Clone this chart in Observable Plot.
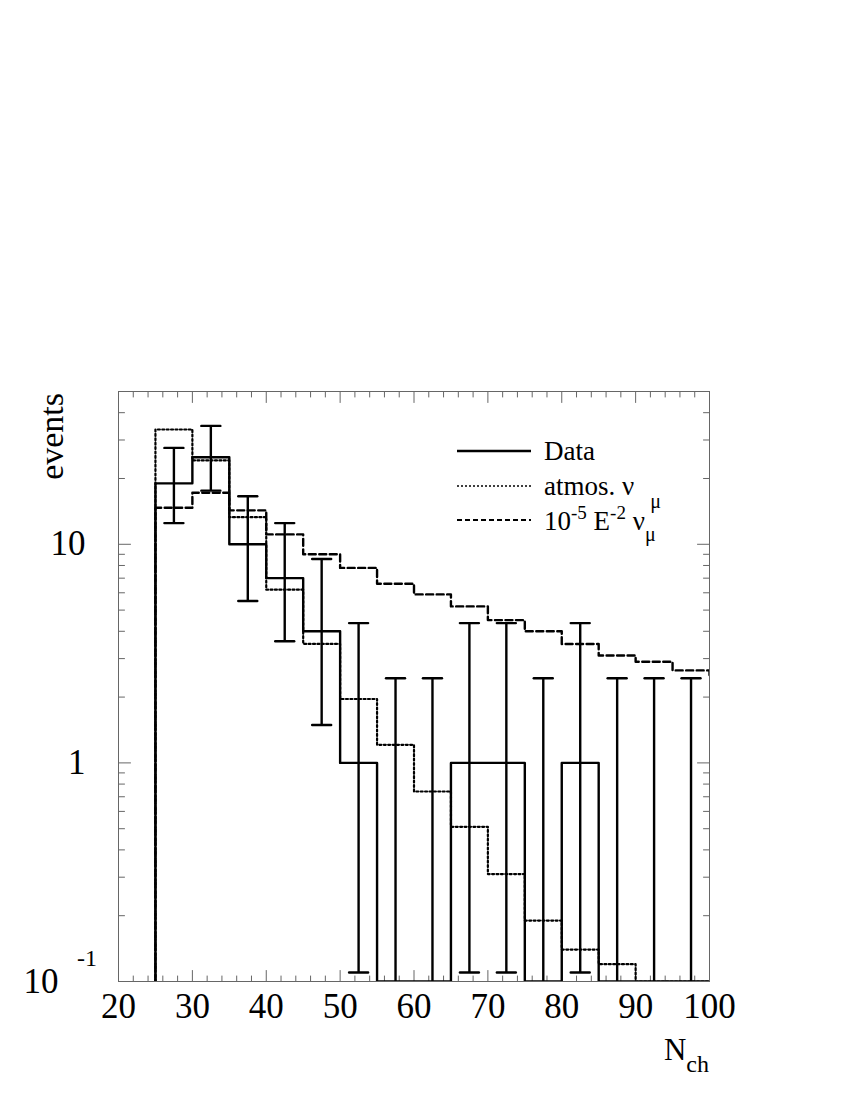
<!DOCTYPE html>
<html><head><meta charset="utf-8">
<script src="https://cdn.jsdelivr.net/npm/d3@7"></script>
<script src="https://cdn.jsdelivr.net/npm/@observablehq/plot@0.6"></script>
<style>
body{margin:0;background:#fff}
#chart{position:relative;width:850px;height:1100px}
</style>
</head><body><div id="chart"></div>
<script>
// ---- data ----
const binLow = [25, 30, 35, 40, 45, 50, 55, 60, 65, 70, 75, 80, 85, 90, 95];
const binWidth = 5;
const dataCounts  = [19, 25, 10, 7, 4, 1, 0, 0, 1, 1, 0, 1, 0, 0, 0];
const dataErrLow  = [12.5, 17.6, 5.5, 3.6, 1.49, 0.11, 0, 0, 0.11, 0.11, 0, 0.11, 0, 0, 0];
const dataErrHigh = [27.6, 34.8, 16.6, 12.5, 8.57, 4.36, 2.44, 2.44, 4.36, 4.36, 2.44, 4.36, 2.44, 2.44, 2.44];
const atmosNuMu   = [33.5, 24.2, 13.3, 6.2, 3.5, 1.96, 1.21, 0.74, 0.51, 0.31, 0.19, 0.14, 0.12, 0, 0];
const signalLow   = [25, 30, 35, 40, 45, 50, 55, 60, 65, 70, 75, 80, 85, 90, 95, 100];
const signalE2    = [14.7, 17.2, 14.3, 11.1, 9.0, 7.8, 6.6, 5.9, 5.2, 4.5, 4.0, 3.5, 3.1, 2.9, 2.65, 2.45];
const xTickLabels = [20, 30, 40, 50, 60, 70, 80, 90, 100];
const xMinorTicks = [22,24,26,28,32,34,36,38,42,44,46,48,52,54,56,58,62,64,66,68,72,74,76,78,82,84,86,88,92,94,96,98];
const yTickLabels = [1, 10];
const yMajorTicks = [0.1, 1, 10];
const yMinorTicks = [0.2,0.3,0.4,0.5,0.6,0.7,0.8,0.9,2,3,4,5,6,7,8,9,20,30,40,50];
const yMin = 0.1, yMax = 50;
const xMin = 20, xMax = 100;

// ---- helpers ----
function steps(lows, vals, width) {
  const pts = [{x: lows[0], y: yMin}];
  lows.forEach((l, i) => pts.push({x: l, y: Math.max(vals[i], yMin)}));
  pts.push({x: lows[lows.length - 1] + width, y: Math.max(vals[vals.length - 1], yMin)});
  return pts;
}
const tickShape = {draw(ctx, l) { ctx.moveTo(0, 0); ctx.lineTo(0, -l); }};
const capShape = {draw(ctx, l) { ctx.moveTo(-l / 2, 0); ctx.lineTo(l / 2, 0); }};

const bins = binLow.map((l, i) => ({
  c: l + binWidth / 2, v: dataCounts[i],
  lo: Math.max(dataErrLow[i], yMin), hi: dataErrHigh[i], hasLo: dataErrLow[i] > 0
}));

const frameColor = "#666";
const sw = 2.4;

const svg = Plot.plot({
  width: 850, height: 1100,
  marginLeft: 118, marginRight: 141, marginTop: 391, marginBottom: 119,
  x: {domain: [xMin, xMax]},
  y: {type: "log", domain: [yMin, yMax]},
  style: {fontFamily: "'Liberation Serif', 'Times New Roman', serif", background: "#fff", color: "#000"},
  marks: [
    // inward ticks
    Plot.vector(xTickLabels, {x: d => d, y: () => yMin, length: 11, rotate: 0, anchor: "start", shape: tickShape, stroke: frameColor, strokeWidth: 1}),
    Plot.vector(xMinorTicks, {x: d => d, y: () => yMin, length: 5.5, rotate: 0, anchor: "start", shape: tickShape, stroke: frameColor, strokeWidth: 1}),
    Plot.vector(xTickLabels, {x: d => d, y: () => yMax, length: 11, rotate: 180, anchor: "start", shape: tickShape, stroke: frameColor, strokeWidth: 1}),
    Plot.vector(xMinorTicks, {x: d => d, y: () => yMax, length: 5.5, rotate: 180, anchor: "start", shape: tickShape, stroke: frameColor, strokeWidth: 1}),
    Plot.vector(yMajorTicks, {x: () => xMin, y: d => d, length: 12, rotate: 90, anchor: "start", shape: tickShape, stroke: frameColor, strokeWidth: 1}),
    Plot.vector(yMinorTicks, {x: () => xMin, y: d => d, length: 6, rotate: 90, anchor: "start", shape: tickShape, stroke: frameColor, strokeWidth: 1}),
    Plot.vector(yMajorTicks, {x: () => xMax, y: d => d, length: 12, rotate: -90, anchor: "start", shape: tickShape, stroke: frameColor, strokeWidth: 1}),
    Plot.vector(yMinorTicks, {x: () => xMax, y: d => d, length: 6, rotate: -90, anchor: "start", shape: tickShape, stroke: frameColor, strokeWidth: 1}),
    // histograms
    Plot.line(steps(binLow, atmosNuMu, binWidth), {x: "x", y: "y", curve: "step-after", stroke: "#000", strokeWidth: 2.2, strokeDasharray: "2,2.4", clip: true}),
    Plot.line(steps(signalLow, signalE2, binWidth), {x: "x", y: "y", curve: "step-after", stroke: "#000", strokeWidth: sw, strokeDasharray: "7,3.5", clip: true}),
    Plot.line(steps(binLow, dataCounts, binWidth), {x: "x", y: "y", curve: "step-after", stroke: "#000", strokeWidth: sw, clip: true}),
    // error bars
    Plot.ruleX(bins, {x: "c", y1: "lo", y2: "hi", stroke: "#000", strokeWidth: sw}),
    Plot.vector(bins, {x: "c", y: "hi", length: 19, rotate: 0, anchor: "start", shape: capShape, stroke: "#000", strokeWidth: sw}),
    Plot.vector(bins.filter(d => d.hasLo), {x: "c", y: "lo", length: 19, rotate: 0, anchor: "start", shape: capShape, stroke: "#000", strokeWidth: sw}),
    Plot.frame({stroke: frameColor, strokeWidth: 1}),
    // tick labels
    Plot.axisX(xTickLabels, {tickSize: 0, tickPadding: 12, fontSize: 35, label: null, tickFormat: d => String(d)}),
    Plot.axisY(yTickLabels, {tickSize: 0, tickPadding: 33, fontSize: 35, label: null, tickFormat: d => String(d)})
  ]
});
document.getElementById("chart").appendChild(svg);

// ---- extra texts & legend ----
const S = d3.select(svg);
const FF = "'Liberation Serif', 'Times New Roman', serif";
function richText(x, y, parts, size, anchor) {
  const t = S.append("text").attr("x", x).attr("y", y).attr("font-family", FF)
    .attr("font-size", size).attr("fill", "#000").attr("text-anchor", anchor || "start");
  let shift = 0;
  for (const p of parts) {
    const target = p.s === "sup" ? -p.off : p.s === "sub" ? p.off : 0;
    const ts = t.append("tspan").text(p.t).attr("dy", target - shift);
    if (p.s) ts.attr("font-size", p.size);
    if (p.dx) ts.attr("dx", p.dx);
    shift = target;
  }
  return t;
}
// 10^-1 label
S.append("text").attr("x", 41).attr("y", 993).attr("font-family", FF).attr("font-size", 35).text("10");
S.append("text").attr("x", 87).attr("y", 966).attr("font-family", FF).attr("font-size", 24).text("-1");
// y title
S.append("text").attr("transform", "translate(63,393) rotate(-90)").attr("text-anchor", "end")
  .attr("font-family", FF).attr("font-size", 34).text("events");
// x title
richText(709, 1060, [{t: "N"}, {t: "ch", s: "sub", off: 12, size: 24}], 31, "end");

// legend
const legendRows = [
  {y: 451, dash: null, w: 2.4, text: [{t: "Data"}]},
  {y: 486, dash: "2,2", w: 1.6, text: [{t: "atmos. ν"}, {t: "μ", s: "sub", off: 13, size: 20, dx: 16}]},
  {y: 520, dash: "5,3", w: 2, text: [{t: "10"}, {t: "-5", s: "sup", off: 11, size: 19}, {t: " E"},
      {t: "-2", s: "sup", off: 11, size: 19}, {t: " ν"}, {t: "μ", s: "sub", off: 11, size: 20}]}
];
const baselines = [460, 495, 530];
legendRows.forEach((r, i) => {
  const ln = S.append("line").attr("x1", 457).attr("x2", 531).attr("y1", r.y).attr("y2", r.y)
    .attr("stroke", "#000").attr("stroke-width", r.w);
  if (r.dash) ln.attr("stroke-dasharray", r.dash);
  richText(544, baselines[i], r.text, 27);
});
</script>
</body></html>
